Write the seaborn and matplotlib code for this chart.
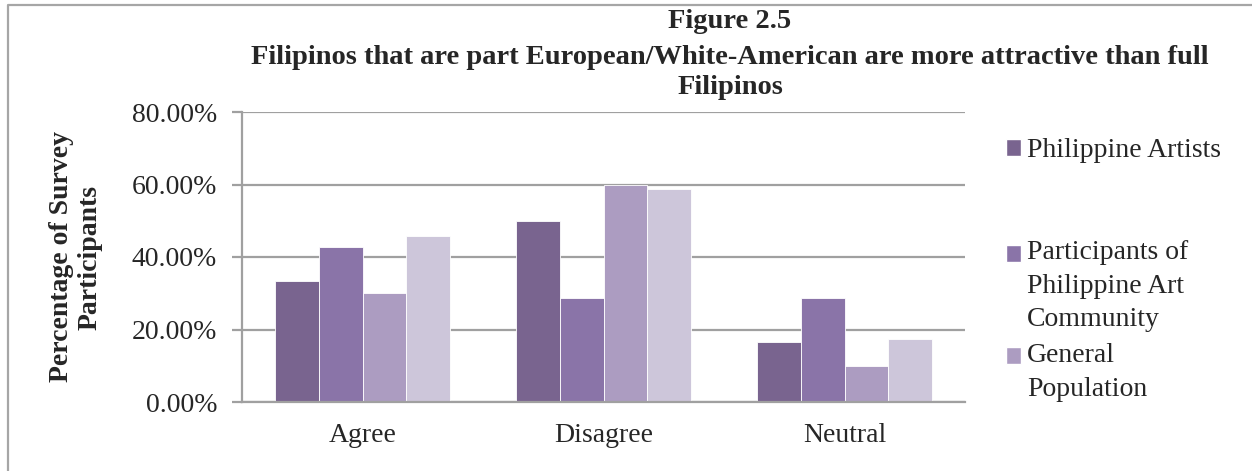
import numpy as np
import pandas as pd
import matplotlib.pyplot as plt
import seaborn as sns
from matplotlib.lines import Line2D
from matplotlib.patches import Patch, Rectangle
from matplotlib.legend_handler import HandlerPatch

# data (percent of survey participants)
responses = ['Agree', 'Disagree', 'Neutral']
groups = ['Philippine Artists', 'Participants of Philippine Art Community',
          'General Population', 'Series 4']
artists = [33.33, 50.00, 16.67]
art_community = [42.86, 28.57, 28.57]
general_pop = [30.00, 60.00, 10.00]
series4 = [45.8, 58.8, 17.4]
legend_labels = ['Philippine Artists', 'Participants of\nPhilippine Art\nCommunity',
                 'General\nPopulation']
colors = ['#79648f', '#8a74a8', '#ac9cc1', '#cdc6da']

df = pd.DataFrame({
    'response': responses * len(groups),
    'group': np.repeat(groups, len(responses)),
    'value': artists + art_community + general_pop + series4,
})

sns.set_style('white')
plt.rcParams['font.family'] = ['Liberation Serif', 'DejaVu Serif']

W, H = 1252, 471
fig = plt.figure(figsize=(W / 100, H / 100), dpi=100)
ax = fig.add_axes([242 / W, 1 - 402 / H, (965 - 242) / W, (402 - 112) / H])

sns.barplot(data=df, x='response', y='value', hue='group', palette=colors,
            saturation=1, width=0.725, edgecolor='white', linewidth=0.6,
            legend=False, ax=ax)

grey = '#a0a0a0'
ax.set_xlim(-0.5, 2.5)
ax.set_ylim(0, 80)
ax.set_yticks(range(0, 81, 20))
ax.set_yticklabels([f'{v:.2f}%' for v in range(0, 81, 20)])
ax.set_xlabel('')
ax.set_ylabel('')
ax.yaxis.grid(True, color=grey, linewidth=1.6)
ax.set_axisbelow(True)
for side in ['top', 'right']:
    ax.spines[side].set_visible(False)
for side in ['left', 'bottom']:
    ax.spines[side].set_color(grey)
    ax.spines[side].set_linewidth(1.6)
ax.tick_params(axis='y', length=7, width=1.6, color=grey, pad=11, labelsize=20, left=True)
ax.tick_params(axis='x', length=0, pad=15, labelsize=20)

# titles
title_x = 730 / W
fig.text(title_x, 1 - 22 / H, 'Figure 2.5', ha='center', va='center',
         fontsize=20.5, fontweight='bold')
fig.text(title_x, 1 - 58 / H,
         'Filipinos that are part European/White-American are more attractive than full',
         ha='center', va='center', fontsize=20.5, fontweight='bold')
fig.text(title_x, 1 - 87 / H, 'Filipinos', ha='center', va='center',
         fontsize=20.5, fontweight='bold')
fig.text(76 / W, 1 - 257 / H, 'Percentage of Survey\nParticipants', rotation=90,
         ha='center', va='center', multialignment='center', fontsize=20,
         fontweight='bold')


# legend: one entry per legend so the spacing follows the reference,
# square handle sits next to the first line of each label
def top_patch(shift):
    def make(legend, orig_handle, xdescent, ydescent, width, height, fontsize):
        return Rectangle((-xdescent, -ydescent + shift), width, height)
    return make


line_step = 23.4
entry_tops = [138, 240, 343]
for i, label in enumerate(legend_labels):
    n_lines = label.count('\n') + 1
    handle = Patch(facecolor=colors[i])
    leg = fig.legend([handle], [label], loc='upper left',
                     bbox_to_anchor=(1006 / W, 1 - entry_tops[i] / H),
                     frameon=False, fontsize=20, handlelength=0.55,
                     handleheight=0.55, handletextpad=0.2, borderpad=0,
                     borderaxespad=0,
                     handler_map={handle: HandlerPatch(
                         patch_func=top_patch((n_lines - 1) / 2 * line_step))})
    for t in leg.get_texts():
        t.set_linespacing(1.45)

# outer chart border
fig.add_artist(Line2D([8 / W, 8 / W, 1], [0, 1 - 5 / H, 1 - 5 / H],
                      transform=fig.transFigure, color='#a6a6a6', linewidth=1.6))

fig.savefig('out.png', dpi=100)
